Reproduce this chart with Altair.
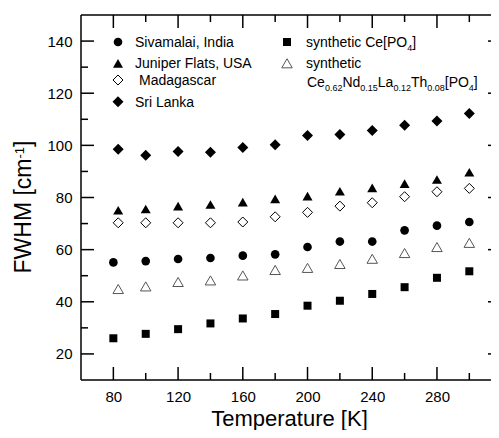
import altair as alt
import pandas as pd

# ---------------- data ----------------
temps = [80, 100, 120, 140, 160, 180, 200, 220, 240, 260, 280, 300]
temps_b = [83, 100, 120, 140, 160, 180, 200, 220, 240, 260, 280, 300]

sivamalai = [55.1, 55.6, 56.4, 56.8, 57.7, 58.2, 61.0, 63.1, 63.1, 67.4, 69.2, 70.6]
juniper = [75.1, 75.6, 76.7, 77.3, 78.2, 79.5, 80.5, 82.4, 83.7, 85.3, 86.9, 89.7]
madagascar = [70.3, 70.3, 70.3, 70.3, 70.6, 72.6, 74.3, 76.7, 78.0, 80.3, 82.2, 83.5]
sri_lanka = [98.5, 96.2, 97.6, 97.4, 99.2, 100.2, 103.8, 104.2, 105.7, 107.7, 109.3, 112.2]
ce_po4 = [26.0, 27.7, 29.5, 31.7, 33.6, 35.3, 38.5, 40.4, 43.0, 45.6, 49.2, 51.7]
mixed = [44.9, 45.9, 47.6, 48.2, 50.1, 52.2, 53.0, 54.5, 56.5, 58.7, 61.0, 62.6]

x_labels = [80, 120, 160, 200, 240, 280]
x_minor = [100, 140, 180, 220, 260, 300]
y_labels = [20, 40, 60, 80, 100, 120, 140]
y_minor = [30, 50, 70, 90, 110, 130]

# ---------------- layout ----------------
W, H = 410, 365
FONT = "Liberation Sans"
xs = alt.Scale(domain=[60, 313.4], nice=False, zero=False)
ys = alt.Scale(domain=[10, 150], nice=False, zero=False)
one = pd.DataFrame({"d": [0]})

AW = {' ': 278, '-': 333, '.': 278, '[': 278, ']': 278, ',': 278,
      'C': 722, 'F': 611, 'H': 722, 'L': 556, 'M': 833, 'N': 722, 'O': 778,
      'P': 667, 'T': 611, 'W': 944, 'a': 556, 'c': 500, 'd': 556, 'e': 556,
      'h': 556, 'i': 222, 'm': 833, 'n': 556, 's': 500, 't': 278, 'y': 500}
for dgt in "0123456789":
    AW[dgt] = 556


def tw(s, fs):
    return sum(AW.get(c, 556) for c in s) / 1000.0 * fs


def txt(s, x, y, fs, angle=0, align="left", baseline="alphabetic"):
    return alt.Chart(one).mark_text(
        text=s, fontSize=fs, font=FONT, color="black", align=align,
        baseline=baseline, angle=angle
    ).encode(x=alt.value(x), y=alt.value(y))


def rich(pieces, x0, yb, fs=14, sfs=9, dy=3.5):
    out = []
    x = x0
    for s, sub in pieces:
        if sub:
            out.append(txt(s, x, yb + dy, sfs))
            x += tw(s, sfs)
        else:
            out.append(txt(s, x, yb, fs))
            x += tw(s, fs)
    return out


layers = []

# frame (left, top, bottom)
layers.append(alt.Chart(one).mark_rule(color="black", strokeWidth=1.5).encode(
    x=alt.value(0), y=alt.value(0), y2=alt.value(H)))
layers.append(alt.Chart(one).mark_rule(color="black", strokeWidth=1.5).encode(
    x=alt.value(0), x2=alt.value(W), y=alt.value(0)))
layers.append(alt.Chart(one).mark_rule(color="black", strokeWidth=1.5).encode(
    x=alt.value(0), x2=alt.value(W), y=alt.value(H)))

# ticks (inward)
dxm = pd.DataFrame({"T": x_labels})
dxn = pd.DataFrame({"T": x_minor})
dym = pd.DataFrame({"V": y_labels})
dyn = pd.DataFrame({"V": y_minor})
rk = dict(color="black", strokeWidth=1.5)
layers.append(alt.Chart(dxm).mark_rule(**rk).encode(
    x=alt.X("T:Q", scale=xs, axis=alt.Axis(
        values=x_labels, ticks=False, tickSize=0, domain=False, grid=False,
        labelFont=FONT, labelFontSize=15, labelColor="black", labelPadding=9,
        labelFlush=False, labelOverlap=False,
        title="Temperature [K]", titleFont=FONT, titleFontSize=22,
        titleFontWeight="normal", titleColor="black",
        titleBaseline="alphabetic", titleY=45, titleX=208)),
    y=alt.value(H), y2=alt.value(H - 13)))
layers.append(alt.Chart(dxm).mark_rule(**rk).encode(
    x=alt.X("T:Q", scale=xs), y=alt.value(0), y2=alt.value(13)))
layers.append(alt.Chart(dxn).mark_rule(**rk).encode(
    x=alt.X("T:Q", scale=xs), y=alt.value(H), y2=alt.value(H - 7)))
layers.append(alt.Chart(dxn).mark_rule(**rk).encode(
    x=alt.X("T:Q", scale=xs), y=alt.value(0), y2=alt.value(7)))
layers.append(alt.Chart(dym).mark_rule(**rk).encode(
    y=alt.Y("V:Q", scale=ys, axis=alt.Axis(
        values=y_labels, ticks=False, tickSize=0, domain=False, grid=False,
        labelFont=FONT, labelFontSize=15, labelColor="black", labelPadding=9,
        labelFlush=False, labelOverlap=False, title=None)),
    x=alt.value(0), x2=alt.value(13)))
layers.append(alt.Chart(dym).mark_rule(**rk).encode(
    y=alt.Y("V:Q", scale=ys), x=alt.value(W - 3), x2=alt.value(W)))
layers.append(alt.Chart(dyn).mark_rule(**rk).encode(
    y=alt.Y("V:Q", scale=ys), x=alt.value(0), x2=alt.value(7)))

# data series
series = [
    (temps, sivamalai, dict(shape="circle", filled=True, size=75, color="black")),
    (temps_b, juniper, dict(shape="triangle-up", filled=True, size=100, color="black")),
    (temps_b, madagascar, dict(shape="diamond", filled=False, size=100, color="black", strokeWidth=1)),
    (temps_b, sri_lanka, dict(shape="diamond", filled=True, size=121, color="black")),
    (temps, ce_po4, dict(shape="square", filled=True, size=64, color="black")),
    (temps_b, mixed, dict(shape="triangle-up", filled=False, size=110, color="#555555", strokeWidth=1)),
]
for xv, yv, st in series:
    df = pd.DataFrame({"T": xv, "F": yv})
    layers.append(alt.Chart(df).mark_point(opacity=1, **st).encode(
        x=alt.X("T:Q", scale=xs), y=alt.Y("F:Q", scale=ys)))

# legend
leg_sym = [
    (37, 27, series[0][2]), (37, 48.3, series[1][2]), (37, 65, series[2][2]),
    (37, 86.7, series[3][2]), (206, 27, series[4][2]), (206, 48.3, series[5][2]),
]
for lx, ly, st in leg_sym:
    layers.append(alt.Chart(one).mark_point(opacity=1, **st).encode(
        x=alt.value(lx), y=alt.value(ly)))

layers.append(txt("Sivamalai, India", 54, 27 + 5, 14))
layers.append(txt("Juniper Flats, USA", 54, 48.3 + 5, 14))
layers.append(txt("Madagascar", 58, 65 + 5, 14))
layers.append(txt("Sri Lanka", 54, 86.7 + 5, 14))
layers += rich([("synthetic Ce[PO", 0), ("4", 1), ("]", 0)], 225, 27 + 5)
layers.append(txt("synthetic", 225, 48.3 + 5, 14))
layers += rich([("Ce", 0), ("0.62", 1), ("Nd", 0), ("0.15", 1), ("La", 0),
                ("0.12", 1), ("Th", 0), ("0.08", 1), ("[PO", 0), ("4", 1),
                ("]", 0)], 226, 67 + 5)

# y-axis title with superscript (rotated)
yfs, sfs = 23, 13
y0 = 192 + (tw("FWHM [cm", yfs) + tw("-1", sfs) + tw("]", yfs)) / 2
bx = -50
layers.append(txt("FWHM [cm", bx, y0, yfs, angle=270))
y1 = y0 - tw("FWHM [cm", yfs)
layers.append(txt("-1", bx - 7, y1, sfs, angle=270))
y2 = y1 - tw("-1", sfs)
layers.append(txt("]", bx, y2, yfs, angle=270))

chart = alt.layer(*layers).properties(
    width=W, height=H,
    padding={"left": 73, "top": 7, "right": 0, "bottom": 50},
    autosize=alt.AutoSizeParams(type="none"),
    background="white",
).configure_view(stroke=None)

chart.save("out.html", embed_options={"renderer": "svg", "actions": False})
